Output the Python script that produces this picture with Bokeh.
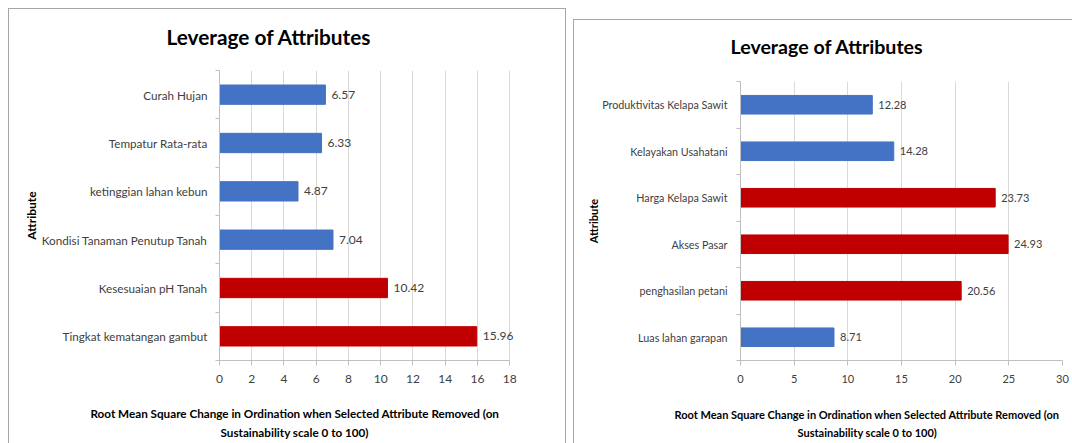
from bokeh.plotting import figure
from bokeh.layouts import row
from bokeh.models import (ColumnDataSource, Range1d, FixedTicker, SingleIntervalTicker,
                          LabelSet, Title, LinearAxis)
from bokeh.core.properties import value
from bokeh.embed import file_html
from bokeh.resources import INLINE

# ---------------- data ----------------
left_categories = ["Tingkat kematangan gambut", "Kesesuaian pH Tanah",
                   "Kondisi Tanaman Penutup Tanah", "ketinggian lahan kebun",
                   "Tempatur Rata-rata", "Curah Hujan"]          # bottom -> top
left_values = [15.96, 10.42, 7.04, 4.87, 6.33, 6.57]
left_colors = ["#C00000", "#C00000", "#4472C4", "#4472C4", "#4472C4", "#4472C4"]
left_xticks_max = 18
left_xtick_step = 2

right_categories = ["Luas lahan garapan", "penghasilan petani", "Akses Pasar",
                    "Harga Kelapa Sawit", "Kelayakan Usahatani",
                    "Produktivitas Kelapa Sawit"]                 # bottom -> top
right_values = [8.71, 20.56, 24.93, 23.73, 14.28, 12.28]
right_colors = ["#4472C4", "#C00000", "#C00000", "#C00000", "#4472C4", "#4472C4"]
right_xticks_max = 30
right_xtick_step = 5

title_text = "Leverage of Attributes"
xlabel_line1 = "Root Mean Square Change in Ordination when Selected Attribute Removed (on"
xlabel_line2 = "Sustainability scale 0 to 100)"
ylabel_text = "Attribute"

FONT = "Lato"
TXT = "#404040"


def px(v):
    return "%.2fpx" % v


def spacer_axis(gap):
    """An axis with one white tick and no visible label, used only to reserve space."""
    ax = LinearAxis(ticker=FixedTicker(ticks=[0], minor_ticks=[]))
    ax.axis_line_color = None
    ax.major_tick_line_color = "white"
    ax.minor_tick_line_color = None
    ax.major_tick_out = gap
    ax.major_tick_in = 0
    ax.minor_tick_out = 0
    ax.minor_tick_in = 0
    ax.major_label_standoff = 0
    ax.major_label_overrides = {0: ""}
    ax.major_label_text_font_size = "1px"
    ax.major_label_text_alpha = 0
    return ax


def make_chart(cats, vals, cols, xmax, xstep, xpad, width, height, mb, margin,
               border_css, s, title_off, title_size, title_gap, title_standoff,
               xl_offs, xl_size, xl_gap, xl_standoffs, lab_standoff):
    n = len(cats)
    pos = [i + 0.5 for i in range(n)]
    src = ColumnDataSource(dict(y=pos, v=vals, c=cols,
                                t=["%.2f" % v for v in vals]))
    p = figure(width=width, height=height, output_backend="svg",
               toolbar_location=None, x_range=Range1d(0, xmax + xpad),
               y_range=Range1d(0, n),
               min_border_left=mb[0], min_border_right=mb[1],
               min_border_top=mb[2], min_border_bottom=mb[3],
               margin=margin)
    p.styles = border_css
    p.outline_line_color = None
    p.background_fill_color = "white"
    p.border_fill_color = "white"

    p.hbar(y="y", right="v", left=0, height=0.4, fill_color="c",
           line_color="c", source=src)

    # x axis
    xa = p.xaxis[0]
    xa.ticker = SingleIntervalTicker(interval=xstep)
    xa.bounds = (0, xmax)
    xa.axis_line_color = "#bfbfbf"
    xa.major_tick_line_color = "#bfbfbf"
    xa.major_tick_out = 5
    xa.major_tick_in = 0
    xa.minor_tick_line_color = None
    xa.major_label_text_font = FONT
    xa.major_label_text_font_size = px(12 * s)
    xa.major_label_text_color = TXT
    xa.major_label_standoff = 9

    # y axis: labels at centres, ticks at category boundaries
    ya = p.yaxis[0]
    ya.ticker = FixedTicker(ticks=pos, minor_ticks=list(range(n + 1)))
    ya.major_label_overrides = {pv: c for pv, c in zip(pos, cats)}
    ya.axis_line_color = "#bfbfbf"
    ya.major_tick_out = 0
    ya.major_tick_in = 0
    ya.minor_tick_line_color = "#bfbfbf"
    ya.minor_tick_out = 4
    ya.minor_tick_in = 0
    ya.major_label_text_font = FONT
    ya.major_label_text_font_size = px(11.7 * s)
    ya.major_label_text_color = TXT
    ya.major_label_standoff = lab_standoff

    p.xgrid.grid_line_color = "#d9d9d9"
    p.xgrid.bounds = (0, xmax)
    p.ygrid.grid_line_color = None

    p.add_layout(LabelSet(x="v", y="y", text="t", source=src, x_offset=6,
                          text_baseline="middle", text_font=value(FONT),
                          text_font_size=px(12 * s), text_color=TXT))

    # title (above), with an empty spacer between frame and title
    p.add_layout(spacer_axis(title_gap), "above")
    p.add_layout(Title(text=title_text, align="left", offset=title_off,
                       standoff=title_standoff,
                       text_font=FONT, text_font_style="bold",
                       text_font_size=title_size, text_color="black"), "above")
    # x-axis title lines (below), with spacer after the tick labels
    p.add_layout(spacer_axis(xl_gap), "below")
    p.add_layout(Title(text=xlabel_line1, align="left", offset=xl_offs[0],
                       standoff=xl_standoffs[0],
                       text_font=FONT, text_font_style="bold",
                       text_font_size=xl_size, text_color="black"), "below")
    p.add_layout(Title(text=xlabel_line2, align="left", offset=xl_offs[1],
                       standoff=xl_standoffs[1],
                       text_font=FONT, text_font_style="bold",
                       text_font_size=xl_size, text_color="black"), "below")
    p.add_layout(Title(text=ylabel_text, align="center", standoff=0,
                       text_font=FONT, text_font_style="bold",
                       text_font_size=px(12 * s), text_color="black"), "left")
    return p


left = make_chart(left_categories, left_values, left_colors,
                  left_xticks_max, left_xtick_step, 0.3,
                  width=558, height=435, mb=(210, 53, 61, 84),
                  margin=(8, 0, 0, 8),
                  border_css={"border-top": "1px solid #a6a6a6",
                              "border-left": "1px solid #a6a6a6",
                              "border-right": "1px solid #a6a6a6"},
                  s=1.0, title_off=-53, title_size="20.8px",
                  title_gap=20, title_standoff=4,
                  xl_offs=(-129, 1), xl_size="11.7px",
                  xl_gap=17, xl_standoffs=(3, 3),
                  lab_standoff=8)

right = make_chart(right_categories, right_values, right_colors,
                   right_xticks_max, right_xtick_step, 0.0,
                   width=499, height=424, mb=(166, 11, 60, 81),
                   margin=(19, 0, 0, 7),
                   border_css={"border-top": "1px solid #a6a6a6",
                               "border-left": "1px solid #a6a6a6"},
                   s=0.92, title_off=-10, title_size="19.6px",
                   title_gap=22, title_standoff=4,
                   xl_offs=(-66, 57), xl_size="11px",
                   xl_gap=19, xl_standoffs=(3, 3),
                   lab_standoff=9)

layout = row(left, right)
open("out.html", "w").write(file_html(layout, INLINE))
